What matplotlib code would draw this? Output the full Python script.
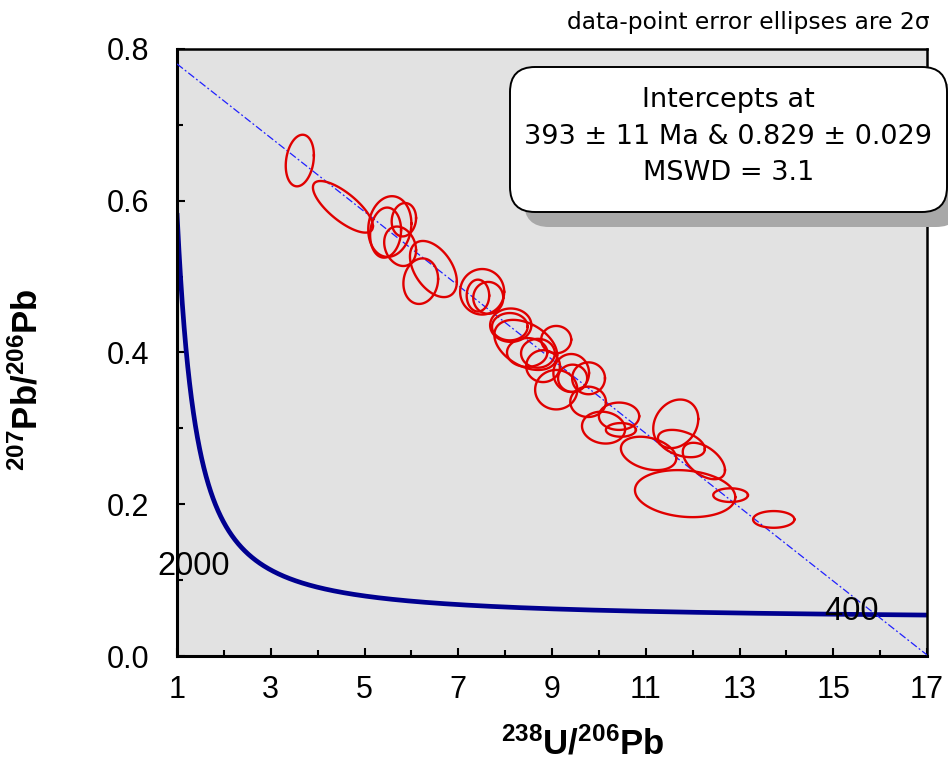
import numpy as np
import matplotlib
matplotlib.use("Agg")
import matplotlib.pyplot as plt
from matplotlib.patches import FancyBboxPatch
from matplotlib.ticker import MultipleLocator, FormatStrFormatter

plt.rcParams['font.family'] = ['Liberation Sans', 'DejaVu Sans']
plt.rcParams['mathtext.fontset'] = 'custom'
plt.rcParams['mathtext.rm'] = 'Liberation Sans'
plt.rcParams['mathtext.bf'] = 'Liberation Sans:bold'
plt.rcParams['mathtext.it'] = 'Liberation Sans:italic'

# decay constants (1/Ma) and present-day 238U/235U
LAMBDA_238 = 1.55125e-4
LAMBDA_235 = 9.8485e-4
U238_U235 = 137.88

# spot analyses: ratios, 2-sigma half-widths and error correlations
u238_pb206 = [3.62, 4.54, 5.54, 5.84, 5.45, 5.76, 6.47, 6.20, 7.51, 7.64,
              7.42, 8.12, 8.10, 8.44, 9.09, 8.47, 8.70, 8.81, 9.41, 9.44,
              9.78, 9.09, 9.77, 10.43, 10.10, 10.47, 11.06, 11.64, 11.76,
              12.24, 11.84, 12.81, 13.73]
u238_err = [0.30, 0.64, 0.46, 0.26, 0.33, 0.34, 0.50, 0.37, 0.47, 0.32,
            0.24, 0.44, 0.38, 0.67, 0.32, 0.43, 0.36, 0.36, 0.38, 0.31,
            0.35, 0.45, 0.38, 0.43, 0.46, 0.32, 0.59, 0.48, 0.50,
            0.45, 1.07, 0.37, 0.44]
pb207_pb206 = [0.653, 0.592, 0.566, 0.575, 0.558, 0.540, 0.510, 0.494, 0.480, 0.472,
               0.475, 0.436, 0.434, 0.410, 0.417, 0.400, 0.399, 0.382, 0.373, 0.366,
               0.366, 0.351, 0.335, 0.316, 0.301, 0.298, 0.267, 0.306, 0.280,
               0.257, 0.214, 0.212, 0.180]
pb207_err = [0.034, 0.034, 0.040, 0.022, 0.033, 0.026, 0.037, 0.030, 0.030, 0.021,
             0.021, 0.022, 0.018, 0.033, 0.018, 0.019, 0.019, 0.021, 0.025, 0.018,
             0.021, 0.026, 0.020, 0.018, 0.021, 0.009, 0.022, 0.032, 0.018,
             0.024, 0.031, 0.009, 0.011]
rho = [0.2, -0.75, 0.1, 0.1, 0.1, -0.2, -0.45, 0.1, 0.0, 0.0,
       0.0, 0.0, 0.0, -0.4, 0.0, 0.0, 0.0, 0.0, 0.0, 0.0,
       0.0, 0.0, 0.0, 0.0, -0.1, 0.0, -0.3, 0.2, -0.4,
       -0.5, -0.15, 0.0, 0.0]

# regression result
lower_age = 393        # Ma
lower_age_err = 11
common_pb = 0.829
common_pb_err = 0.029
mswd = 3.1

age_labels = [2000, 400]
x_ticks = [1, 3, 5, 7, 9, 11, 13, 15, 17]


def tw_point(t):
    """Tera-Wasserburg coordinates of the concordia at age t (Ma)"""
    e8 = np.exp(LAMBDA_238 * t) - 1.
    e5 = np.exp(LAMBDA_235 * t) - 1.
    return 1. / e8, e5 / e8 / U238_U235


def ellipse_xy(x, y, ex, ey, r, n=120):
    t = np.linspace(0, 2 * np.pi, n)
    xs = x + ex * np.cos(t)
    ys = y + ey * (r * np.cos(t) + np.sqrt(1 - r ** 2) * np.sin(t))
    return xs, ys


fig = plt.figure(figsize=(9.48, 7.61), dpi=100)
ax = fig.add_axes([177 / 948, 105 / 761, 750 / 948, 607 / 761])
ax.set_facecolor('#e2e2e2')
xmin, xmax = 1, 17
ax.set_xlim(xmin, xmax)
ax.set_ylim(0, 0.8)

# concordia curve between the axis limits
t_lo = np.log(1 + 1. / xmax) / LAMBDA_238
t_hi = np.log(1 + 1. / xmin) / LAMBDA_238
ages = np.linspace(t_lo, t_hi, 600)
cx, cy = tw_point(ages)
ax.plot(cx, cy, color='#000090', lw=3.4, zorder=2, solid_capstyle='butt')

# discordia through the common-Pb intercept and the lower intercept
lx, ly = tw_point(lower_age)
slope = (ly - common_pb) / lx
dx = np.array([xmin, xmax])
ax.plot(dx, common_pb + slope * dx, color='#2020ff', lw=0.9,
        dashes=[6, 2, 1.5, 2], zorder=3)

for x, ex, y, ey, r in zip(u238_pb206, u238_err, pb207_pb206, pb207_err, rho):
    xs, ys = ellipse_xy(x, y, ex, ey, r)
    ax.plot(xs, ys, color='#e00000', lw=1.7, zorder=4)

# age marks on the concordia
offsets = {2000: (-47, -3), 400: (-8, 2.5)}
for age in age_labels:
    px, py = tw_point(age)
    ax.annotate(str(age), (px, py), xytext=offsets[age], textcoords='offset points',
                ha='center', va='center', fontsize=23.5, zorder=5)

ax.set_xticks(x_ticks)
ax.xaxis.set_minor_locator(MultipleLocator(1))
ax.yaxis.set_major_locator(MultipleLocator(0.2))
ax.yaxis.set_minor_locator(MultipleLocator(0.1))
ax.yaxis.set_major_formatter(FormatStrFormatter('%.1f'))
ax.tick_params(which='both', direction='in', width=1.5, labelsize=22)
ax.tick_params(which='major', length=6)
ax.tick_params(which='minor', length=4.5)
ax.tick_params(axis='x', pad=14)
ax.tick_params(axis='y', pad=20)
for side in ['left', 'bottom']:
    ax.spines[side].set_linewidth(2.2)
for side in ['top', 'right']:
    ax.spines[side].set_linewidth(1.8)

fig.text(583 / 948, 1 - 744 / 761, r'$\mathbf{^{238}U/^{206}Pb}$', fontsize=25,
         ha='center', va='center')
fig.text(27 / 948, 1 - 380 / 761, r'$\mathbf{^{207}Pb/^{206}Pb}$', fontsize=25,
         ha='center', va='center', rotation=90)

fig.text(930 / 948, 1 - 22 / 761, 'data-point error ellipses are 2σ',
         fontsize=16.8, family='DejaVu Sans', ha='right', va='center')

# results box with drop shadow
tr = fig.dpi_scale_trans
shadow = FancyBboxPatch((5.24, 5.34), 4.37, 1.45, boxstyle='round,pad=0,rounding_size=0.25',
                        transform=tr, fc='#a8a8a8', ec='none', zorder=10)
box = FancyBboxPatch((5.10, 5.49), 4.37, 1.45, boxstyle='round,pad=0,rounding_size=0.25',
                     transform=tr, fc='white', ec='black', lw=1.4, zorder=11)
fig.add_artist(shadow)
fig.add_artist(box)
lines = ['Intercepts at',
         '%d ± %d Ma & %.3f ± %.3f' % (lower_age, lower_age_err, common_pb, common_pb_err),
         'MSWD = %.1f' % mswd]
for i, s in enumerate(lines):
    fig.text(7.285, 6.61 - 0.365 * i, s, transform=tr, fontsize=19.5,
             family='DejaVu Sans', ha='center', va='center', zorder=12)

fig.savefig('out.png', dpi=100)
